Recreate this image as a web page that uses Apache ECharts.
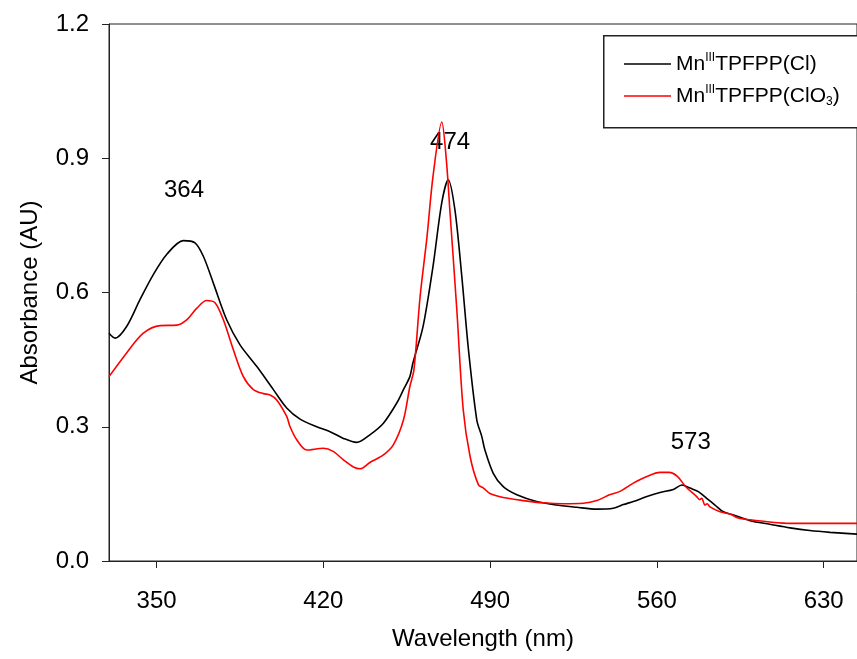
<!DOCTYPE html>
<html>
<head>
<meta charset="utf-8">
<script src="https://cdn.jsdelivr.net/npm/echarts@6/dist/echarts.min.js"></script>
<style>
html,body{margin:0;padding:0;background:#fff;}
#chart{width:857px;height:659px;}
</style>
</head>
<body>
<div id="chart"></div>
<script>
// Wavelength (nm) / absorbance pairs
const clWave = [330,332.6,337.4,343.0,348.6,354.2,361.2,366.1,369.6,373.8,379.4,385.0,392.0,399.0,404.6,410.2,417.2,422.8,428.4,434.0,439.5,445.2,450.8,453.8,456.3,457.6,461.8,466.0,469.7,472.4,475.2,478.1,480.9,484.4,486.5,487.8,491.3,495.5,501.2,509.5,518.0,526.3,534.8,541.7,545.9,550.1,555.8,561.3,566.9,570.5,573.9,577.4,580.9,584.4,587.9,592.1,599.1,607.4,615.9,624.2,632.7,644];
const clAbs  = [0.509,0.498,0.524,0.584,0.640,0.685,0.716,0.711,0.681,0.621,0.539,0.483,0.435,0.383,0.342,0.317,0.300,0.289,0.274,0.265,0.282,0.308,0.353,0.385,0.412,0.443,0.523,0.658,0.801,0.852,0.785,0.636,0.472,0.315,0.278,0.248,0.196,0.166,0.148,0.133,0.125,0.120,0.116,0.118,0.126,0.133,0.144,0.153,0.160,0.170,0.163,0.155,0.140,0.125,0.110,0.103,0.090,0.082,0.074,0.068,0.064,0.060];

const clo3Wave = [330,337.4,344.4,351.5,358.4,362.6,366.9,371.0,374.5,378.0,382.2,386.4,390.6,394.8,397.6,400.4,404.6,406.0,408.8,413.0,420.0,424.1,428.4,432.6,435.4,439.5,445.2,449.4,453.6,456.3,458.0,460.6,463.5,466.0,469.7,471.6,473.1,476.0,478.7,481.6,485.1,487.2,489.9,495.5,504.0,512.3,520.8,529.1,534.8,540.1,544.3,550.1,555.8,561.3,565.1,568.6,572.1,576.7,577.9,578.8,580.2,581.1,582.3,586.5,590.7,594.2,599.1,607.4,615.9,624.2,632.7,644];
const clo3Abs  = [0.412,0.465,0.509,0.526,0.527,0.539,0.565,0.582,0.577,0.539,0.472,0.412,0.383,0.374,0.371,0.360,0.323,0.300,0.271,0.248,0.252,0.245,0.226,0.210,0.206,0.220,0.237,0.260,0.315,0.390,0.427,0.591,0.725,0.859,0.981,0.897,0.783,0.562,0.338,0.233,0.170,0.163,0.151,0.142,0.135,0.130,0.128,0.129,0.135,0.148,0.155,0.174,0.189,0.198,0.198,0.189,0.166,0.144,0.137,0.140,0.125,0.128,0.121,0.110,0.105,0.096,0.092,0.087,0.084,0.084,0.084,0.084];

const peakWave  = [361.5, 473.2, 574.2];
const peakAbs   = [0.828, 0.935, 0.264];
const peakTexts = ['364', '474', '573'];

const xTicks = [350, 420, 490, 560, 630];

const nameCl   = 'MnIIITPFPP(Cl)';
const nameClO3 = 'MnIIITPFPP(ClO3)';

const zip = (a, b) => a.map((v, i) => [v, b[i]]);
const FONT = '"Liberation Sans", Arial, sans-serif';

const chart = echarts.init(document.getElementById('chart'), null, {renderer: 'canvas'});

const legendRich = {
  m: {fontSize: 21, fontFamily: FONT, color: '#000'},
  s: {fontSize: 12, fontFamily: FONT, color: '#000', padding: [0, 0, 12, 0]},
  b: {fontSize: 12, fontFamily: FONT, color: '#000', padding: [12, 0, 0, 0]}
};
const legendFmt = name => name === nameCl
  ? '{m|Mn}{s|III}{m|TPFPP(Cl)}'
  : '{m|Mn}{s|III}{m|TPFPP(ClO}{b|3}{m|)}';

const option = {
  backgroundColor: '#fff',
  animation: false,
  grid: {left: 109, right: 0, top: 24, bottom: 98, show: true, borderColor: '#222', borderWidth: 1, backgroundColor: 'transparent'},
  xAxis: {
    type: 'value', min: 330, max: 644,
    name: 'Wavelength (nm)', nameLocation: 'middle', nameGap: 66,
    nameTextStyle: {fontSize: 24, fontFamily: FONT, color: '#000'},
    axisLine: {show: true, lineStyle: {color: '#222', width: 1}},
    axisTick: {show: true, length: 7, lineStyle: {color: '#222'}, customValues: xTicks},
    axisLabel: {fontSize: 24, fontFamily: FONT, color: '#000', margin: 28, customValues: xTicks},
    splitLine: {show: false}
  },
  yAxis: {
    type: 'value', min: 0, max: 1.2, interval: 0.3,
    name: 'Absorbance (AU)', nameLocation: 'middle', nameGap: 67, nameRotate: 90,
    nameTextStyle: {fontSize: 24, fontFamily: FONT, color: '#000'},
    axisLine: {show: true, lineStyle: {color: '#222', width: 1}},
    axisTick: {show: true, length: 7, lineStyle: {color: '#222'}},
    axisLabel: {fontSize: 24, fontFamily: FONT, color: '#000', margin: 20,
      formatter: v => v.toFixed(1)},
    splitLine: {show: false}
  },
  graphic: [{
    type: 'rect', left: 603, top: 35,
    shape: {width: 300, height: 92},
    style: {fill: '#fff', stroke: '#222', lineWidth: 1.5},
    z: 50
  }],
  legend: [
    {data: [nameCl], left: 619, top: 47, icon: 'rect', itemWidth: 47, itemHeight: 1.5,
     formatter: legendFmt, textStyle: {rich: legendRich, padding: [0, 0, 0, 0]}, z: 60, selectedMode: false},
    {data: [nameClO3], left: 619, top: 79, icon: 'rect', itemWidth: 47, itemHeight: 1.5,
     formatter: legendFmt, textStyle: {rich: legendRich, padding: [0, 0, 0, 0]}, z: 60, selectedMode: false}
  ],
  series: [
    {name: nameCl, type: 'line', data: zip(clWave, clAbs), showSymbol: false, smooth: 0.3,
     lineStyle: {color: '#000', width: 1.6}, itemStyle: {color: '#000'}},
    {name: nameClO3, type: 'line', data: zip(clo3Wave, clo3Abs), showSymbol: false, smooth: 0.3,
     lineStyle: {color: '#ff0000', width: 1.6}, itemStyle: {color: '#ff0000'}},
    {name: 'peaks', type: 'scatter', symbolSize: 0, silent: true,
     itemStyle: {opacity: 1, color: '#000'},
     data: peakWave.map((w, i) => [w, peakAbs[i], peakTexts[i]]),
     label: {show: true, position: 'inside', formatter: p => p.data[2], opacity: 1,
       fontSize: 24, fontFamily: FONT, color: '#000'}}
  ]
};
chart.setOption(option);
</script>
</body>
</html>
